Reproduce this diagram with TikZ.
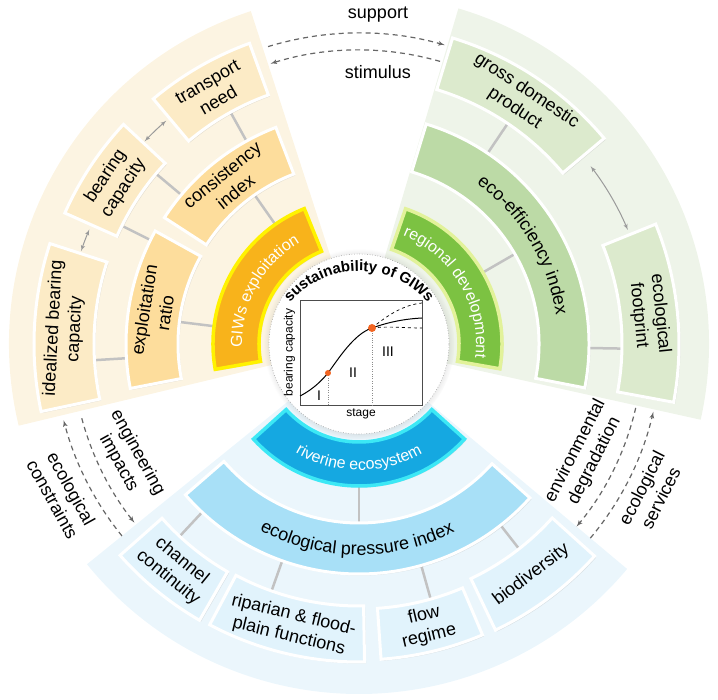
\documentclass[tikz,border=0pt]{standalone}
\usepackage{fontspec}
\setmainfont{Liberation Sans}
\usetikzlibrary{arrows,shadows,decorations.text,positioning}

\definecolor{orbg}{HTML}{FCF4E2}
\definecolor{orout}{HTML}{FCEBC6}
\definecolor{ormid}{HTML}{FDDD9C}
\definecolor{orin}{HTML}{F8B31B}
\definecolor{orrim}{HTML}{FFF200}
\definecolor{grbg}{HTML}{EEF4E9}
\definecolor{grout}{HTML}{DCEACD}
\definecolor{grmid}{HTML}{BCDAA6}
\definecolor{grin}{HTML}{7CC242}
\definecolor{grrim}{HTML}{E2F29A}
\definecolor{blbg}{HTML}{EBF6FC}
\definecolor{blout}{HTML}{E1F3FC}
\definecolor{blmid}{HTML}{A8E0F7}
\definecolor{blin}{HTML}{15A8E1}
\definecolor{blrim}{HTML}{3CE8F5}
\definecolor{linkgray}{HTML}{C2C2C2}
\definecolor{arrgray}{HTML}{9A9A9A}
\definecolor{dotred}{HTML}{F26522}

\newcommand{\bandfont}{\fontsize{16}{16}\selectfont\color{white}}
\newcommand{\ringfont}{\fontsize{18}{18}\selectfont}
\newcommand{\hubfont}{\bfseries\fontsize{15}{15}\selectfont}

\begin{document}
\begin{tikzpicture}[x=1pt,y=1pt,>=latex',
  wedge/.style args={#1/#2}{insert path={(0,0) -- (#1:350) arc[start angle=#1,end angle=#2,radius=350] -- cycle}},
  sector/.style args={#1/#2/#3/#4}{insert path={(#3:#1) arc[start angle=#3,end angle=#4,radius=#1] -- (#4:#2) arc[start angle=#4,end angle=#3,radius=#2] -- cycle}},
  box/.style={fill=#1,draw=white,line width=3pt,drop shadow={opacity=0.18,shadow xshift=1.5pt,shadow yshift=-1.5pt}},
  band/.style={fill=#1,line width=3.5pt,drop shadow={opacity=0.18,shadow xshift=1.5pt,shadow yshift=-1.5pt}},
  lbl/.style={font=\fontsize{18}{21.5}\selectfont,align=center,inner sep=0pt},
  link/.style={draw=linkgray,line width=2.5pt},
  pair/.style={<->,draw=arrgray,line width=1pt},
  flow/.style={->,draw=black!60,line width=1.2pt,dash pattern=on 5pt off 4pt},
  plotlbl/.style={font=\fontsize{12}{12}\selectfont},
  stagelbl/.style={font=\fontsize{14}{14}\selectfont}]
  \useasboundingbox (-359,-356) rectangle (359,344);

  \path[fill=orbg, wedge=108/193.5];
  \path[fill=grbg, wedge=-12.5/73.5];
  \path[fill=blbg, wedge=219/320];

  \foreach \n/\a/\ri/\ro in {a/125/145/182, b/173/145/181, c/119/232/265, d/140/232/265,
      e/153.5/233/263, f/183.5/233/265, g/30/143/180, h/56/230/266, i/-1/230/263,
      j/270/142/179, k/227/230/263, l/250.5/230/262, m/285.7/230/265, n/308/230/260}{
    \coordinate (link\n0) at (\a:\ri);
    \coordinate (link\n1) at (\a:\ro);
    \draw[link] (link\n0) -- (link\n1);
  }

  \path[band=orin, draw=orrim, sector=100/146/112/190];
  \path[box=ormid, sector=182/232/111/147];
  \path[box=ormid, sector=181/233/151/191];
  \path[box=orout, sector=265/320/110/130];
  \path[box=orout, sector=265/322/137/156];
  \path[box=orout, sector=265/325/162/192];

  \path[band=grin, draw=grrim, sector=100/143/-10/71];
  \path[box=grmid, sector=180/230/-11/73];
  \path[box=grout, sector=266/320/40/73];
  \path[box=grout, sector=263/320/-10.5/22];

  \path[band=blin, draw=blrim, sector=98/142/222/318];
  \path[box=blmid, sector=179/230/221/318];
  \path[box=blout, sector=263/319/221.5/240];
  \path[box=blout, sector=262/318/242/271];
  \path[box=blout, sector=265/316/274/293];
  \path[box=blout, sector=260/317/295.5/318];

  \path[decorate, decoration={text along path, text align=center, text={|\bandfont|GIWs exploitation}}]
    (190:117) arc[start angle=190, end angle=112, radius=117];
  \path[decorate, decoration={text along path, text align=center, text={|\bandfont|regional development}}]
    (73:117) arc[start angle=73, end angle=-12, radius=117];
  \path[decorate, decoration={text along path, text align=center, text={|\bandfont|riverine ecosystem}}]
    (222:126) arc[start angle=222, end angle=318, radius=126];
  \path[decorate, decoration={text along path, text align=center, text={|\ringfont|eco-efficiency index}}]
    (73:199) arc[start angle=73, end angle=-11, radius=199];
  \path[decorate, decoration={text along path, text align=center, text={|\ringfont|ecological pressure index}}]
    (221:211) arc[start angle=221, end angle=318, radius=211];

  \node[lbl, rotate=30] (trans) at (120:292) {transport\\need};
  \node[lbl, rotate=56.5] (bear) at (146.5:293) {bearing\\capacity};
  \node[lbl, rotate=87] (ideal) at (177:295) {idealized bearing\\capacity};
  \node[lbl, rotate=39] (cons) at (129:207) {consistency\\index};
  \node[lbl, rotate=81] (expl) at (171:207) {exploitation\\ratio};
  \node[lbl, rotate=-33.5] (gdp) at (56.5:293) {gross domestic\\product};
  \node[lbl, rotate=-84.25] (foot) at (5.75:292) {ecological\\footprint};
  \node[lbl, rotate=-39.25] (chan) at (230.75:291) {channel\\continuity};
  \node[lbl, rotate=-13.5] (ripa) at (256.5:290) {riparian \& flood-\\plain functions};
  \node[lbl, rotate=13.5] (flow) at (283.5:290) {flow\\regime};
  \node[lbl, rotate=36.75] (bio) at (306.75:288) {biodiversity};

  \coordinate (tb0) at (130.8:295);
  \draw[pair] (tb0) arc[start angle=130.8, end angle=136.6, radius=295];
  \coordinate (bi0) at (157:293);
  \draw[pair] (bi0) arc[start angle=157, end angle=161.5, radius=293];
  \coordinate (gf0) at (37.5:292);
  \draw[pair] (gf0) arc[start angle=37.5, end angle=23, radius=292];

  \coordinate (supS) at (107:311);
  \draw[flow] (supS) arc[start angle=107, end angle=74, radius=311];
  \coordinate (stiS) at (74:294);
  \draw[flow] (stiS) arc[start angle=74, end angle=107.5, radius=294];
  \coordinate (engS) at (195:287);
  \draw[flow] (engS) arc[start angle=195, end angle=218.5, radius=287];
  \coordinate (conS) at (219:305);
  \draw[flow] (conS) arc[start angle=219, end angle=194.5, radius=305];
  \coordinate (envS) at (-13:284);
  \draw[flow] (envS) arc[start angle=-13, end angle=-40, radius=284];
  \coordinate (serS) at (-40:302);
  \draw[flow] (serS) arc[start angle=-40, end angle=-13, radius=302];

  \node[lbl] (sup) at (19,329) {support};
  \node[lbl] (stim) at (19,272) {stimulus};
  \node[lbl, rotate=-61] (eng) at (-231,-114) {engineering\\impacts};
  \node[lbl, rotate=-61] (ecoc) at (-297,-150) {ecological\\constraints};
  \node[lbl, rotate=63] (env) at (226,-112) {environmental\\degradation};
  \node[lbl, rotate=63] (serv) at (292,-149) {ecological\\services};

  \node[circle, fill=white, draw=black!40, dotted, line width=0.6pt, minimum size=180, inner sep=0pt,
    circular drop shadow={shadow xshift=0pt, shadow yshift=0pt, shadow scale=1.06, opacity=0.35}] (hub) at (0,0) {};
  \path[decorate, decoration={text along path, text align=center, text={|\hubfont|sustainability of GIWs}}]
    ([shift={(0,-17)}]148:90) arc[start angle=148, end angle=32, radius=90];

  \node[draw=black!70, line width=0.6pt, minimum width=122, minimum height=105, inner sep=0pt] (plotbox) at (2,-8.5) {};
  \node[plotlbl, rotate=90, anchor=south] (ylab) at ([xshift=-1pt]plotbox.west) {bearing capacity};
  \node[plotlbl, anchor=north] (xlab) at (plotbox.south) {stage};
  \coordinate (dotA) at (-31,-29);
  \coordinate (dotB) at (13,16);
  \draw[dotted, black!45] (dotA) -- (dotA |- plotbox.south);
  \draw[dotted, black!45] (dotB) -- (dotB |- plotbox.south);
  \draw[line width=1pt] (-59,-52) .. controls (-45,-45) and (-36,-35) .. (dotA)
    .. controls (-20,-14) and (-5,10) .. (dotB) .. controls (30,22) and (45,25) .. (63,26);
  \draw[dashed, line width=0.7pt] (dotB) .. controls (30,30) and (45,39) .. (63,41);
  \draw[dashed, line width=0.7pt] (dotB) .. controls (30,18) and (45,16) .. (63,16);
  \fill[dotred] (dotA) circle (3);
  \fill[dotred] (dotB) circle (4);
  \node[stagelbl] (s1) at (-40,-52) {I};
  \node[stagelbl] (s2) at (-6,-29) {II};
  \node[stagelbl] (s3) at (29,-8) {III};
\end{tikzpicture}
\end{document}
